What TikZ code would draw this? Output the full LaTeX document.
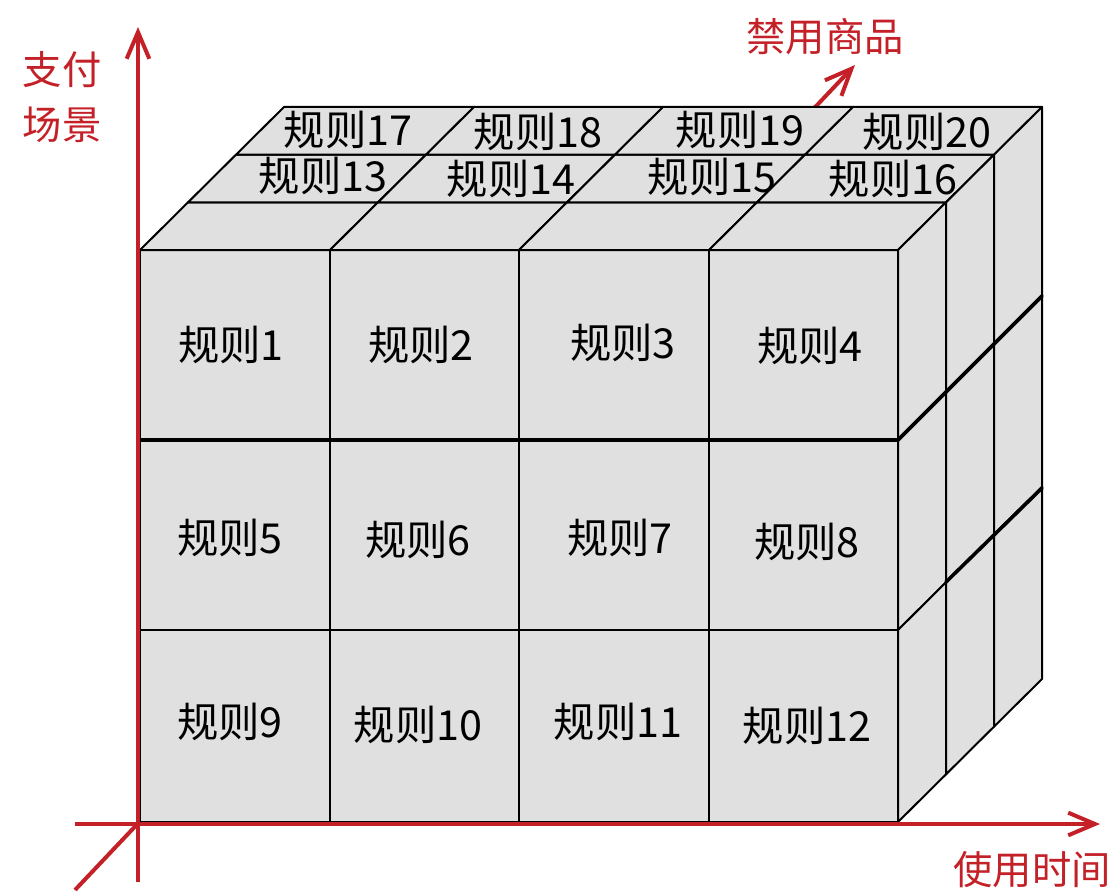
\documentclass[tikz,border=0pt]{standalone}
\usepackage{fontspec}
\setmainfont{Noto Sans CJK SC}
\usetikzlibrary{arrows.meta}
\definecolor{axisred}{RGB}{196,32,40}
\definecolor{cubegray}{RGB}{224,224,224}
\begin{document}
\begin{tikzpicture}[x=0.75pt,y=-0.75pt,
  face/.style={fill=cubegray,draw=black,line width=1.5pt,line join=round},
  heavy/.style={draw=black,line width=2.7pt,line cap=round},
  axis/.style={draw=axisred,line width=3pt,-{Straight Barb[length=20pt,width=17pt,line width=3pt]}},
  lbl/.style={font=\fontsize{31pt}{35pt}\selectfont,text=black,inner sep=0pt},
  axlbl/.style={font=\fontsize{29.5pt}{41pt}\selectfont,text=axisred,inner sep=0pt,align=center}]
\useasboundingbox (0,0) rectangle (1118,890);

% depth axis (behind the cubes)
\coordinate (zb) at (75,890);
\coordinate (zt) at (855,65);
\draw[axis] (zb) -- (zt);

% front faces
\foreach \xa/\xb in {140/330,330/519,519/709,709/898}{
  \foreach \ya/\yb in {250/440,440/630,630/822}{
    \draw[face] (\xa,\ya) rectangle (\xb,\yb);
  }
}
% top faces
\foreach \xa/\xb in {140/330,330/519,519/709,709/898}{
  \foreach \k in {0,1,2}{
    \draw[face] ({\xa+48*\k},{250-47.67*\k}) -- ({\xb+48*\k},{250-47.67*\k})
      -- ({\xb+48*(\k+1)},{250-47.67*(\k+1)}) -- ({\xa+48*(\k+1)},{250-47.67*(\k+1)}) -- cycle;
  }
}
% right faces
\foreach \ya/\yb in {250/440,440/630,630/822}{
  \foreach \k in {0,1,2}{
    \draw[face] ({898+48*\k},{\ya-47.67*\k}) -- ({898+48*(\k+1)},{\ya-47.67*(\k+1)})
      -- ({898+48*(\k+1)},{\yb-47.67*(\k+1)}) -- ({898+48*\k},{\yb-47.67*\k}) -- cycle;
  }
}
% heavier seams
\draw[heavy] (140,440) -- (898,440) -- (1042,296);
\draw[heavy] (946,582) -- (1042,488);

% main axes (on top)
\coordinate (yb) at (138,882);
\coordinate (yt) at (138,27);
\coordinate (xl) at (75,824);
\coordinate (xr) at (1100,824);
\draw[axis] (yb) -- (yt);
\draw[axis] (xl) -- (xr);

% axis labels
\node[axlbl] (pay) at (62,97) {支付\\场景};
\node[axlbl] (ban) at (825,37) {禁用商品};
\node[axlbl] (time) at (1032,870) {使用时间};

% rule labels
\node[lbl] (r1) at (231,345) {规则1};
\node[lbl] (r2) at (421,345) {规则2};
\node[lbl] (r3) at (623,343) {规则3};
\node[lbl] (r4) at (810,346) {规则4};
\node[lbl] (r5) at (230,538) {规则5};
\node[lbl] (r6) at (418,540) {规则6};
\node[lbl] (r7) at (620,538) {规则7};
\node[lbl] (r8) at (807,542) {规则8};
\node[lbl] (r9) at (230,722) {规则9};
\node[lbl] (r10) at (418,725) {规则10};
\node[lbl] (r11) at (618,722) {规则11};
\node[lbl] (r12) at (807,726) {规则12};
\node[lbl] (r13) at (323,176) {规则13};
\node[lbl] (r14) at (511,179) {规则14};
\node[lbl] (r15) at (712,177) {规则15};
\node[lbl] (r16) at (893,179) {规则16};
\node[lbl] (r17) at (348,130) {规则17};
\node[lbl] (r18) at (538,132) {规则18};
\node[lbl] (r19) at (740,130) {规则19};
\node[lbl] (r20) at (927,132) {规则20};
\end{tikzpicture}
\end{document}
